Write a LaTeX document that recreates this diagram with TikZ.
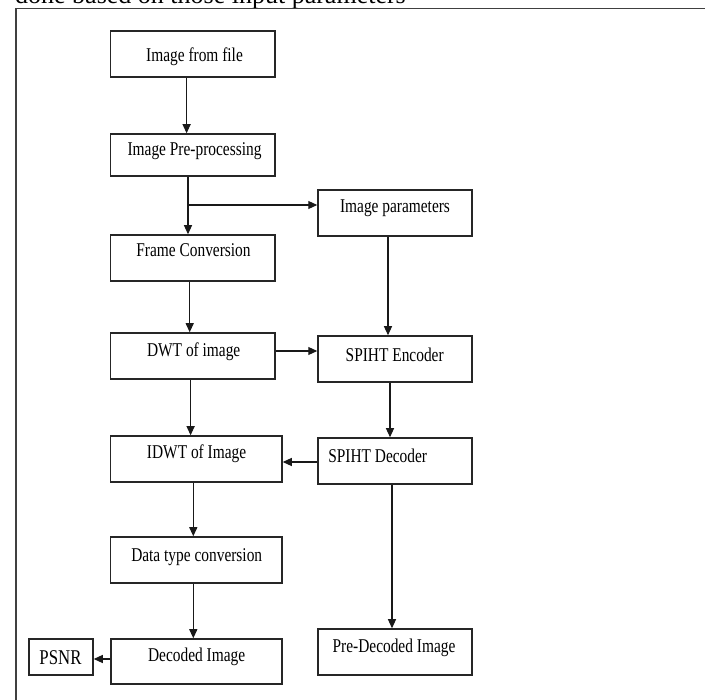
\documentclass[tikz,border=0pt]{standalone}
\usepackage{fontspec}
\setmainfont{Liberation Serif}
\newfontfamily\narrowserif[FakeStretch=0.79]{Liberation Serif}
\newfontfamily\psnrserif[FakeStretch=0.8]{Liberation Serif}
\usetikzlibrary{arrows.meta}
\begin{document}
\begin{tikzpicture}[x=1pt,y=-1pt,
  box/.style={draw=black!85, line width=1.5pt, inner sep=0pt, fill=white},
  txt/.style={inner sep=0pt, font=\narrowserif\fontsize{19.5}{22}\selectfont},
  arr/.style={draw=black!90, line width=1.1pt, -{Triangle[length=9pt,width=8pt]}},
  frame/.style={draw=black!75, line width=1.4pt}]
\useasboundingbox (0,0) rectangle (705,700);
\clip (0,0) rectangle (705,700);
% clipped text line above the frame
\node[anchor=base west, inner sep=0pt, font=\fontsize{26}{30}\selectfont] (top) at (15,4) {done based on those input parameters};
% outer frame
\coordinate (fbl) at (16,702);
\coordinate (ftl) at (16,8.5);
\coordinate (ftr) at (707,8.5);
\draw[frame] (fbl) -- (ftl) -- (ftr);
% boxes
\node[box, minimum width=164.4pt, minimum height=46pt] (file) at (192.8,54) {};
\node[box, minimum width=164.4pt, minimum height=42pt] (pre) at (192.8,155) {};
\node[box, minimum width=154pt, minimum height=46pt] (par) at (395,213) {};
\node[box, minimum width=164.4pt, minimum height=46pt] (frm) at (192.8,258) {};
\node[box, minimum width=164.4pt, minimum height=46pt] (dwt) at (192.8,356) {};
\node[box, minimum width=154pt, minimum height=46pt] (enc) at (395,359) {};
\node[box, minimum width=171.4pt, minimum height=46pt] (idwt) at (196.3,459) {};
\node[box, minimum width=154pt, minimum height=46pt] (dec) at (395,461) {};
\node[box, minimum width=171.4pt, minimum height=46pt] (dtc) at (196.3,560) {};
\node[box, minimum width=171pt, minimum height=45pt] (dimg) at (196.5,661.5) {};
\node[box, minimum width=64pt, minimum height=36pt] (psnr) at (61,657) {};
\node[box, minimum width=154pt, minimum height=46pt] (pdec) at (395,652) {};
% texts
\node[txt] (tfile) at (194.5,57) {Image from file};
\node[txt] (tpre) at (194.5,151) {Image Pre-processing};
\node[txt] (tpar) at (395,208) {Image parameters};
\node[txt] (tfrm) at (193.5,250) {Frame Conversion};
\node[txt] (tdwt) at (193.7,351.5) {DWT of image};
\node[txt] (tenc) at (394.7,354.5) {SPIHT Encoder};
\node[txt] (tidwt) at (196.6,454) {IDWT of Image};
\node[txt] (tdec) at (377.7,456) {SPIHT Decoder};
\node[txt] (tdtc) at (196.7,557) {Data type conversion};
\node[txt] (tdimg) at (196.6,656.5) {Decoded Image};
\node[txt, font=\psnrserif\fontsize{21}{24}\selectfont] (tpsnr) at (60.5,658) {PSNR};
\node[txt] (tpdec) at (394,647.5) {Pre-Decoded Image};
% helper coordinates for connector heights / columns
\coordinate (c1) at (186.6,0);
\coordinate (c2) at (188,0);
\coordinate (br) at (188,205);
\coordinate (c3) at (189.7,0);
\coordinate (c4) at (190.6,0);
\coordinate (c5) at (193.3,0);
\coordinate (c6) at (388,0);
\coordinate (c7) at (390,0);
\coordinate (c8) at (392,0);
\coordinate (h1) at (0,351);
\coordinate (h2) at (0,462);
\coordinate (h3) at (0,659);
% connectors
\draw[arr] (c1 |- file.south) -- (c1 |- pre.north);
\draw[arr] (c2 |- pre.south) -- (c2 |- frm.north);
\draw[arr] (br) -- (par.west |- br);
\draw[arr] (c3 |- frm.south) -- (c3 |- dwt.north);
\draw[arr] (c6 |- par.south) -- (c6 |- enc.north);
\draw[arr] (dwt.east |- h1) -- (enc.west |- h1);
\draw[arr] (c4 |- dwt.south) -- (c4 |- idwt.north);
\draw[arr] (c7 |- enc.south) -- (c7 |- dec.north);
\draw[arr] (dec.west |- h2) -- (idwt.east |- h2);
\draw[arr] (c5 |- idwt.south) -- (c5 |- dtc.north);
\draw[arr] (c5 |- dtc.south) -- (c5 |- dimg.north);
\draw[arr] (c8 |- dec.south) -- (c8 |- pdec.north);
\draw[arr] (dimg.west |- h3) -- (psnr.east |- h3);
\end{tikzpicture}
\end{document}
